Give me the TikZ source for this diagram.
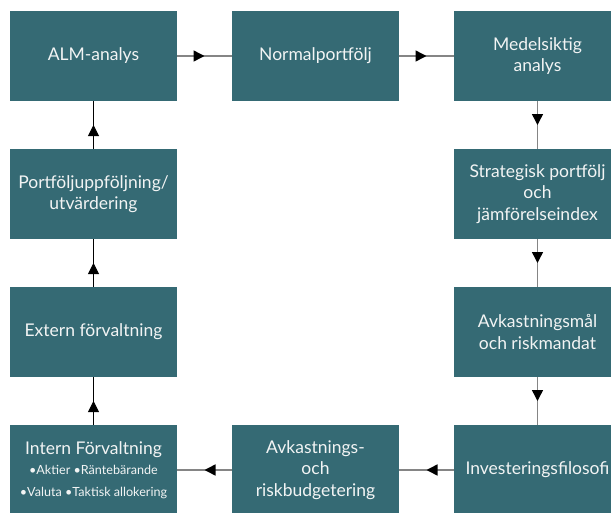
\documentclass[tikz,border=0pt]{standalone}
\usepackage{fontspec}
\setmainfont{Lato}
\usetikzlibrary{arrows.meta,decorations.markings}
\definecolor{boxteal}{HTML}{356A74}
\definecolor{linegray}{HTML}{858585}
\definecolor{boxtext}{HTML}{F2F4F4}
\tikzset{
  procbox/.style={fill=boxteal, draw=none, minimum width=167pt, minimum height=90pt,
    inner sep=0pt, text=boxtext, align=center, font=\fontsize{17.5}{21.5}\selectfont},
  midarrow/.style={postaction={decorate}, decoration={markings,
    mark=at position 0.5 with {\arrow[black]{Triangle[length=11pt,width=11pt]}}}},
  grayconn/.style={draw=linegray, line width=1.5pt, midarrow},
  blackconn/.style={draw=black, line width=1pt, midarrow},
}
\begin{document}
\begin{tikzpicture}[x=1pt,y=-1pt]
\useasboundingbox (0,0) rectangle (611,512);
\clip (0,0) rectangle (611,512);
\node[procbox] (alm) at (93.5,56) {ALM-analys};
\node[procbox] (norm) at (315.5,56) {Normalportfölj};
\node[procbox] (med) at (537.5,56) {Medelsiktig\\analys};
\node[procbox] (strat) at (537.5,194) {Strategisk portfölj\\och\\jämförelseindex};
\node[procbox] (avkm) at (537.5,332) {Avkastningsmål\\och riskmandat};
\node[procbox] (inv) at (537.5,470) {Investeringsfilosofi};
\node[procbox] (budg) at (315.5,470) {Avkastnings-\\och\\riskbudgetering};
\node[procbox] (intern) at (93.5,470) {Intern Förvaltning\\[-1pt]
  {\fontsize{12.6}{20.5}\selectfont •Aktier •Räntebärande}\\[0pt]
  {\fontsize{12.6}{20.5}\selectfont •Valuta •Taktisk allokering}};
\node[procbox] (ext) at (93.5,332) {Extern förvaltning};
\node[procbox] (uppf) at (93.5,194) {Portföljuppföljning/\\utvärdering};
\draw[grayconn] (alm.east) -- (norm.west);
\draw[grayconn] (norm.east) -- (med.west);
\draw[grayconn] (med.south) -- (strat.north);
\draw[grayconn] (strat.south) -- (avkm.north);
\draw[grayconn] (avkm.south) -- (inv.north);
\draw[grayconn] (inv.west) -- (budg.east);
\draw[grayconn] (budg.west) -- (intern.east);
\draw[blackconn] (intern.north) -- (ext.south);
\draw[blackconn] (ext.north) -- (uppf.south);
\draw[blackconn] (uppf.north) -- (alm.south);
\end{tikzpicture}
\end{document}
